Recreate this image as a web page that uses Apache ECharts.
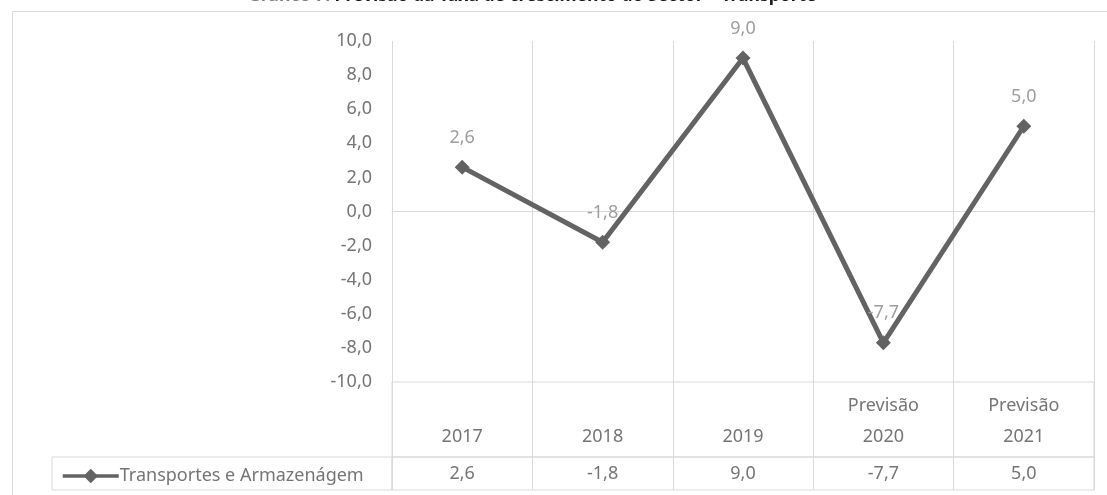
<!DOCTYPE html>
<html>
<head>
<meta charset="utf-8">
<script src="https://cdn.jsdelivr.net/npm/echarts@6/dist/echarts.min.js"></script>
<style>
html,body{margin:0;padding:0;background:#fff;}
#chart{width:1107px;height:495px;}
</style>
</head>
<body>
<div id="chart"></div>
<script>
var titlePrefix = 'Gráfico 7: ';
var titleMain = 'Previsão da Taxa de crescimento do Sector – Transporte';
var seriesName = 'Transportes e Armazenágem';
var categories = ['2017', '2018', '2019', 'Previsão\n2020', 'Previsão\n2021'];
var values = [2.6, -1.8, 9.0, -7.7, 5.0];
var yMin = -10, yMax = 10, yStep = 2;

function fmt(v) { return Number(v).toFixed(1).replace('.', ','); }

var FONT = 'Noto Sans';
var FS = 18;
var GRID_COLOR = '#d9d9d9';
var LABEL_COLOR = '#757575';
var DATA_LABEL_COLOR = '#9e9e9e';
var LINE_COLOR = '#636363';

var chart = echarts.init(document.getElementById('chart'), null, {renderer: 'canvas'});
chart.setOption({
  animation: false,
  backgroundColor: '#fff',
  textStyle: {fontFamily: FONT},
  title: {
    text: '{g|' + titlePrefix + '}{b|' + titleMain + '}',
    left: 243,
    top: -18,
    textStyle: {
      rich: {
        g: {fontFamily: FONT, fontSize: 17.5, fontWeight: 'bold', color: '#7f7f7f'},
        b: {fontFamily: FONT, fontSize: 17.5, fontWeight: 'bold', color: '#1a1a1a'}
      }
    }
  },
  graphic: [{
    type: 'rect', silent: true, z: -1,
    shape: {x: 12.5, y: 11.5, width: 1110, height: 500},
    style: {fill: 'none', stroke: GRID_COLOR, lineWidth: 1}
  }],
  legend: {
    left: 56,
    top: 462,
    itemWidth: 56,
    itemHeight: 18,
    itemGap: 0,
    lineStyle: {width: 3.5},
    textStyle: {fontFamily: FONT, fontSize: FS, color: LABEL_COLOR, padding: [0, 0, 0, -4]},
    data: [{name: seriesName}]
  },
  grid: [
    {left: 392, top: 41, width: 702, height: 341},
    {left: 392, top: 382, width: 702, height: 75, show: true, borderColor: GRID_COLOR, borderWidth: 1},
    {left: 392, top: 457, width: 702, height: 33, show: true, borderColor: GRID_COLOR, borderWidth: 1},
    {left: 52, top: 457, width: 340, height: 33, show: true, borderColor: GRID_COLOR, borderWidth: 1}
  ],
  xAxis: [
    {
      gridIndex: 0, type: 'category', data: categories, boundaryGap: true,
      axisLine: {show: true, onZero: true, lineStyle: {color: GRID_COLOR, width: 1}},
      axisTick: {show: false}, axisLabel: {show: false},
      splitLine: {show: true, lineStyle: {color: GRID_COLOR, width: 1}}
    },
    {
      gridIndex: 1, type: 'category', data: categories, boundaryGap: true, position: 'bottom',
      axisLine: {show: false}, axisTick: {show: false},
      splitLine: {show: true, lineStyle: {color: GRID_COLOR, width: 1}},
      axisLabel: {inside: true, margin: 5, verticalAlign: 'bottom', lineHeight: 31,
        fontFamily: FONT, fontSize: FS, color: LABEL_COLOR, interval: 0}
    },
    {
      gridIndex: 2, type: 'category', data: values.map(fmt), boundaryGap: true, position: 'bottom',
      axisLine: {show: false}, axisTick: {show: false},
      splitLine: {show: true, lineStyle: {color: GRID_COLOR, width: 1}},
      axisLabel: {inside: true, margin: 16, verticalAlign: 'middle',
        fontFamily: FONT, fontSize: FS, color: LABEL_COLOR, interval: 0}
    },
    {gridIndex: 3, type: 'category', data: [seriesName], show: false}
  ],
  yAxis: [
    {
      gridIndex: 0, type: 'value', min: yMin, max: yMax, interval: yStep,
      axisLine: {show: false}, axisTick: {show: false}, splitLine: {show: false},
      axisLabel: {formatter: fmt, margin: 20, fontFamily: FONT, fontSize: FS, color: LABEL_COLOR}
    },
    {gridIndex: 1, type: 'value', show: false},
    {gridIndex: 2, type: 'value', show: false},
    {gridIndex: 3, type: 'value', show: false}
  ],
  series: [{
    name: seriesName,
    type: 'line',
    xAxisIndex: 0, yAxisIndex: 0,
    data: values,
    symbol: 'diamond',
    symbolSize: 15,
    lineStyle: {color: LINE_COLOR, width: 5},
    itemStyle: {color: LINE_COLOR},
    label: {
      show: true, position: 'top', distance: 13,
      formatter: function (p) { return fmt(p.value); },
      fontFamily: FONT, fontSize: FS, color: DATA_LABEL_COLOR
    }
  }]
});
</script>
</body>
</html>
